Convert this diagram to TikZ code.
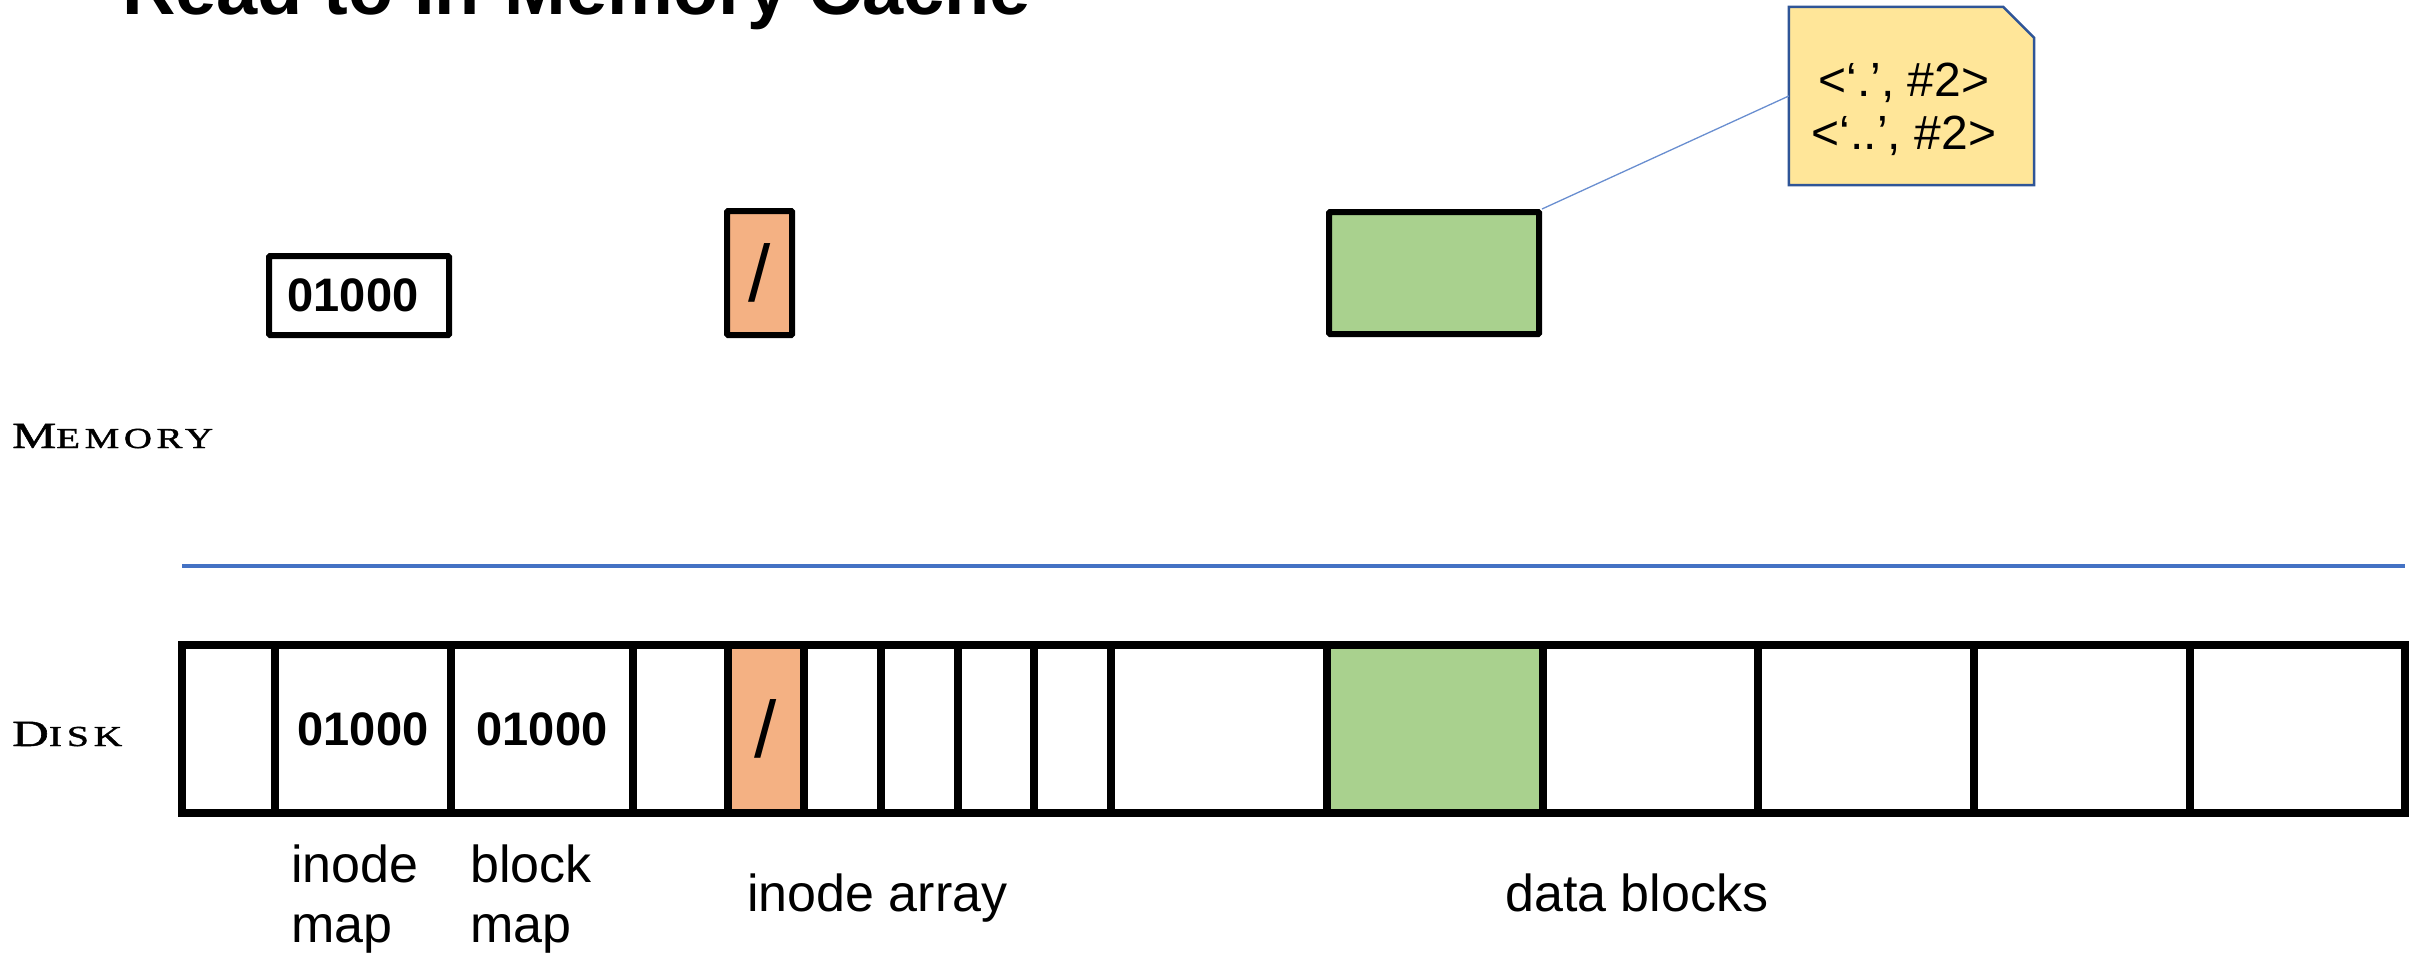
\documentclass[tikz,border=0pt]{standalone}
\usepackage{fontspec}
\setsansfont{Liberation Sans}
\newfontfamily\sidefont{Liberation Serif}[LetterSpace=12,FakeBold=1.2]
\usetikzlibrary{calc}
\definecolor{cellorange}{HTML}{F4B183}
\definecolor{cellgreen}{HTML}{A9D18E}
\definecolor{notefill}{HTML}{FFE699}
\definecolor{noteline}{HTML}{2F5597}
\definecolor{sepblue}{HTML}{4472C4}
\newcommand{\fakesc}[2]{{\fontsize{37}{40}\selectfont #1}{\fontsize{29}{40}\selectfont #2}}
\begin{document}
\begin{tikzpicture}[x=1pt,y=-1pt,
  cell/.style={draw, line width=8pt, inner sep=0pt, minimum height=168pt},
  membox/.style={draw, line width=6pt, inner sep=0pt, rounded corners=1pt},
  boldtxt/.style={font=\sffamily\bfseries\fontsize{47}{50}\selectfont, inner sep=0pt},
  slashtxt/.style={font=\sffamily\fontsize{80}{80}\selectfont, inner sep=0pt},
  lbl/.style={font=\sffamily\fontsize{52}{60}\selectfont, inner sep=0pt, align=left},
  sidelbl/.style={font=\sidefont, inner sep=0pt, anchor=base west},
  notetxt/.style={font=\sffamily\fontsize{48}{53}\selectfont, inner sep=0pt, align=center},
  title/.style={font=\sffamily\bfseries\fontsize{74}{80}\selectfont, inner sep=0pt, anchor=base west}
]
\useasboundingbox (0,0) rectangle (2420,955);

% title (cut off at the top)
\node[title] (title) at (122,15) {Read to In-Memory Cache};

% side labels
\node[sidelbl] (memlbl) at (12,448) {\scalebox{1.34}[1]{\fakesc{M}{EMORY}}};
\node[sidelbl] (disklbl) at (12,746) {\scalebox{1.37}[1]{\fakesc{D}{ISK}}};

% separator line
\coordinate (sepL) at (182,566);
\coordinate (sepR) at (2405,566);
\draw[sepblue, line width=4pt] (sepL) -- (sepR);

% disk cells
\foreach \a/\b/\c [count=\i] in {182/275/white, 275/451/white, 451/633/white, 633/728/white,
  728/804/cellorange, 804/881/white, 881/958/white, 958/1034/white, 1034/1111/white,
  1111/1327/white, 1327/1543/cellgreen, 1543/1758/white, 1758/1974/white,
  1974/2190/white, 2190/2405/white}
  \node[cell, fill=\c, minimum width=\b-\a] (d\i) at ({(\a+\b)/2},729) {};

\node[boldtxt] (d2t) at (d2) {01000};
\node[boldtxt] (d3t) at (d3) {01000};
\node[slashtxt] (d5t) at (d5) {/};

% memory boxes
\node[membox, minimum width=180pt, minimum height=79pt] (mmap) at (359,295.5) {};
\node[boldtxt] (mmapt) at (353,295.5) {01000};
\node[membox, fill=cellorange, minimum width=65pt, minimum height=124pt, font=\sffamily\fontsize{80}{80}\selectfont] (mino) at (759.5,273) {/};
\node[membox, fill=cellgreen, minimum width=210pt, minimum height=122pt] (mdata) at (1434,273) {};

% note
\node[inner sep=0pt, minimum width=245pt, minimum height=178pt] (note) at (1911.5,96) {};
\draw[noteline, fill=notefill, line width=2.5pt]
  (note.north west) -- ($(note.north east)+(-31,0)$) -- ($(note.north east)+(0,31)$)
  -- (note.south east) -- (note.south west) -- cycle;
\node[notetxt] (notet) at (1904,109) {<‘.’, \#2>\\<‘..’, \#2>};
\draw[sepblue!80, line width=1.3pt] (mdata.north east) -- (note.west);

% bottom labels
\node[lbl, anchor=base west] (l1) at (291,942) {inode\\map};
\node[lbl, anchor=base west] (l2) at (470,942) {block\\map};
\node[lbl, anchor=base west] (l3) at (747,911) {inode array};
\node[lbl, anchor=base west] (l4) at (1505,911) {data blocks};
\end{tikzpicture}
\end{document}
